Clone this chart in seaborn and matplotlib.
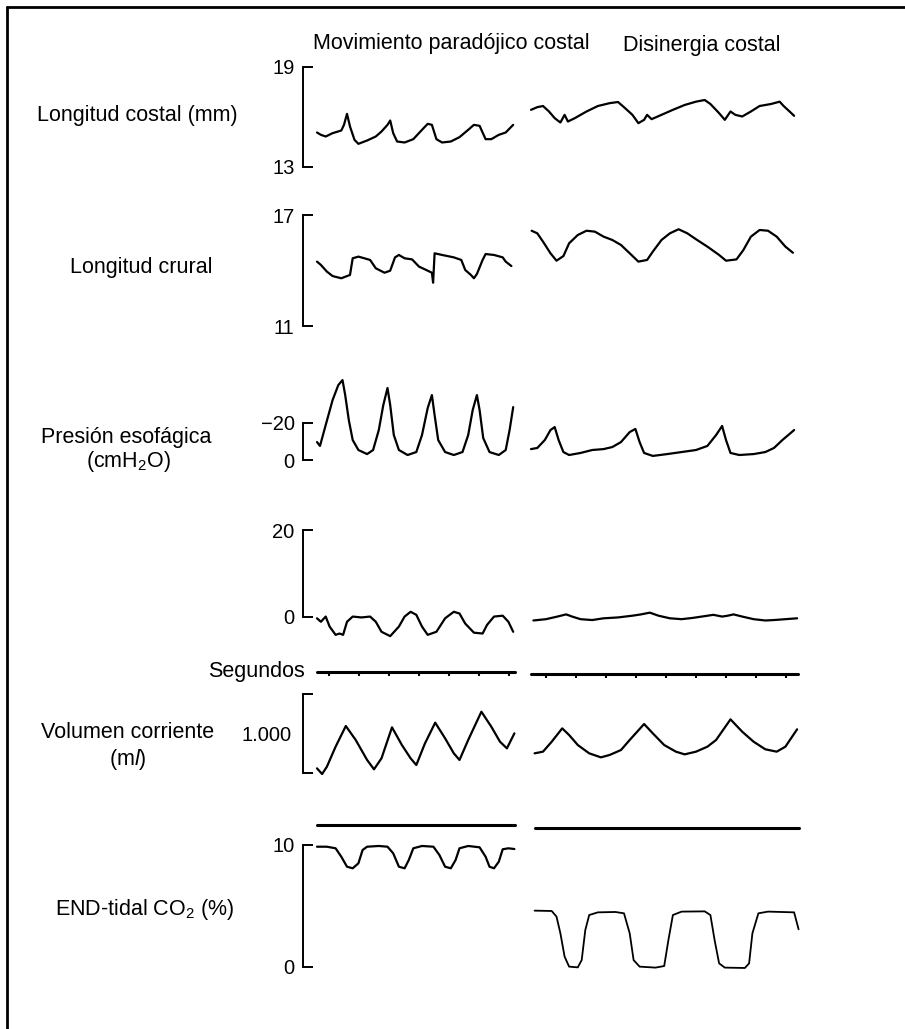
import numpy as np
import pandas as pd
import seaborn as sns
import matplotlib.pyplot as plt
from matplotlib.lines import Line2D

# --- data (time in s, values in channel units) ---
# Longitud costal (mm)
t_costal_izq = [0, 0.13, 0.29, 0.52, 0.81, 0.90, 1.00, 1.10, 1.25, 1.38, 1.67, 1.96, 2.15, 2.35, 2.44, 2.54, 2.67,
                2.92, 3.21, 3.50, 3.69, 3.83, 3.98, 4.17, 4.46, 4.75, 5.04, 5.23, 5.42, 5.62, 5.81, 6.06, 6.29, 6.54]
costal_izq = [15.07, 14.93, 14.83, 15.03, 15.19, 15.53, 16.19, 15.43, 14.63, 14.39, 14.59, 14.83, 15.13, 15.53, 15.79,
              15.03, 14.53, 14.47, 14.67, 15.23, 15.59, 15.53, 14.67, 14.47, 14.53, 14.79, 15.23, 15.53, 15.47, 14.67,
              14.67, 14.93, 15.07, 15.53]
t_costal_der = [0, 0.21, 0.40, 0.60, 0.79, 0.98, 1.12, 1.23, 1.46, 1.85, 2.23, 2.62, 2.90, 3.10, 3.38, 3.58, 3.77,
                3.87, 4.02, 4.35, 4.73, 5.12, 5.50, 5.79, 5.98, 6.27, 6.46, 6.65, 6.81, 7.04, 7.33, 7.62, 8.00, 8.29,
                8.42, 8.62, 8.77]
costal_der = [16.43, 16.59, 16.66, 16.33, 15.93, 15.67, 16.13, 15.73, 15.93, 16.33, 16.66, 16.83, 16.90, 16.59, 16.13,
              15.63, 15.83, 16.13, 15.87, 16.13, 16.43, 16.72, 16.92, 17.02, 16.78, 16.23, 15.83, 16.33, 16.13, 16.03,
              16.33, 16.66, 16.78, 16.92, 16.66, 16.33, 16.07]

# Longitud crural
t_crural_izq = [0, 0.13, 0.33, 0.52, 0.81, 1.10, 1.19, 1.38, 1.58, 1.77, 1.96, 2.25, 2.44, 2.60, 2.73, 2.92, 3.17,
                3.40, 3.69, 3.83, 3.87, 3.92, 4.17, 4.56, 4.81, 4.94, 5.13, 5.23, 5.33, 5.52, 5.62, 5.90, 6.19, 6.29,
                6.48]
crural_izq = [14.48, 14.30, 13.94, 13.70, 13.58, 13.76, 14.66, 14.75, 14.66, 14.57, 14.12, 13.88, 13.99, 14.71, 14.84,
              14.66, 14.60, 14.21, 13.99, 13.88, 13.34, 14.93, 14.84, 14.71, 14.57, 14.03, 13.76, 13.58, 13.81, 14.57,
              14.89, 14.84, 14.71, 14.48, 14.24]
t_crural_der = [0.02, 0.21, 0.40, 0.65, 0.85, 1.08, 1.27, 1.56, 1.85, 2.13, 2.42, 2.71, 3.00, 3.29, 3.58, 3.87, 4.06,
                4.35, 4.63, 4.92, 5.21, 5.50, 5.88, 6.27, 6.50, 6.85, 7.08, 7.33, 7.62, 7.90, 8.19, 8.48, 8.73]
crural_der = [16.15, 16.01, 15.56, 14.93, 14.53, 14.78, 15.47, 15.92, 16.15, 16.10, 15.83, 15.65, 15.38, 14.93, 14.48,
              14.57, 15.02, 15.65, 16.01, 16.23, 16.01, 15.69, 15.29, 14.84, 14.53, 14.60, 15.11, 15.83, 16.19, 16.15,
              15.83, 15.29, 14.96]

# Presión esofágica (cmH2O)
t_pes_izq = [0, 0.10, 0.29, 0.52, 0.71, 0.85, 0.94, 1.06, 1.19, 1.38, 1.67, 1.87, 2.06, 2.21, 2.35, 2.44, 2.56, 2.73,
             3.02, 3.31, 3.50, 3.69, 3.83, 3.92, 4.04, 4.27, 4.56, 4.85, 5.04, 5.19, 5.33, 5.42, 5.54, 5.75, 6.06,
             6.29, 6.42, 6.54]
pes_izq = [-9.7, -7.6, -18.9, -32.4, -40.5, -43.2, -35.1, -21.6, -10.8, -5.4, -3.2, -5.4, -16.2, -29.7, -38.9, -29.7,
           -13.5, -5.4, -2.7, -4.3, -13.5, -28.1, -35.1, -24.3, -10.8, -4.3, -2.7, -4.3, -13.5, -27.0, -35.1, -27.0,
           -11.9, -4.3, -2.7, -5.4, -16.2, -28.6]
t_pes_der = [0, 0.21, 0.46, 0.65, 0.79, 0.92, 1.08, 1.27, 1.65, 2.04, 2.42, 2.71, 3.00, 3.29, 3.48, 3.62, 3.77, 4.06,
             4.54, 5.02, 5.50, 5.88, 6.17, 6.37, 6.50, 6.65, 6.94, 7.42, 7.81, 8.10, 8.38, 8.62, 8.77]
pes_der = [-5.9, -6.5, -10.8, -16.2, -17.8, -10.8, -4.3, -2.7, -3.8, -5.4, -5.9, -7.0, -9.7, -15.1, -16.8, -9.7, -3.8,
           -2.2, -3.2, -4.3, -5.4, -7.6, -13.5, -18.4, -10.8, -3.8, -2.7, -3.2, -4.3, -6.5, -10.8, -14.1, -16.2]

# segunda presión (sin rótulo)
t_p2_izq = [0, 0.13, 0.29, 0.42, 0.62, 0.75, 0.87, 1.00, 1.19, 1.48, 1.77, 1.96, 2.15, 2.44, 2.73, 2.92, 3.12, 3.31,
            3.50, 3.69, 3.98, 4.27, 4.56, 4.75, 4.94, 5.23, 5.52, 5.67, 5.90, 6.19, 6.38, 6.54]
p2_izq = [-0.3, -1.1, 0.1, -2.2, -4.1, -3.8, -4.1, -1.1, 0.1, -0.1, 0.1, -1.1, -3.4, -4.4, -2.2, 0.1, 1.2, 0.5, -2.2,
          -4.1, -3.4, -0.3, 1.2, 0.8, -1.5, -3.6, -3.8, -1.8, 0.1, 0.3, -1.1, -3.4]
t_p2_der = [0.08, 0.50, 0.88, 1.17, 1.37, 1.65, 2.04, 2.42, 2.90, 3.38, 3.67, 3.96, 4.25, 4.63, 5.02, 5.40, 5.79, 6.08,
            6.37, 6.56, 6.75, 7.04, 7.42, 7.81, 8.10, 8.48, 8.87]
p2_der = [-0.8, -0.5, 0.1, 0.6, 0.1, -0.5, -0.7, -0.3, -0.1, 0.3, 0.6, 1.0, 0.3, -0.3, -0.5, -0.2, 0.2, 0.5, 0.1, 0.3,
          0.6, 0.1, -0.5, -0.8, -0.7, -0.5, -0.3]

# Segundos (marcas de tiempo)
seg_izq_t = [0.0, 6.6]
seg_der_t = [0.0, 8.9]
seg_izq_marcas = [0.4, 1.4, 2.4, 3.4, 4.4, 5.4, 6.4]
seg_der_marcas = [0.5, 1.5, 2.5, 3.5, 4.5, 5.5, 6.5, 7.5, 8.5]

# Volumen corriente (ml)
t_vol_izq = [0, 0.17, 0.33, 0.62, 0.96, 1.29, 1.67, 1.90, 2.15, 2.50, 2.83, 3.12, 3.31, 3.60, 3.94, 4.27, 4.56, 4.75,
             5.04, 5.48, 5.81, 6.10, 6.33, 6.58]
vol_izq = [59, -13, 80, 333, 595, 418, 165, 47, 186, 578, 354, 186, 101, 376, 637, 439, 249, 165, 418, 776, 586, 396,
           312, 502]
t_vol_der = [0.12, 0.40, 0.69, 1.04, 1.27, 1.56, 1.94, 2.33, 2.62, 3.00, 3.29, 3.77, 4.06, 4.44, 4.83, 5.12, 5.50,
             5.88, 6.17, 6.65, 7.04, 7.42, 7.81, 8.19, 8.48, 8.87]
vol_der = [249, 270, 396, 565, 481, 354, 249, 198, 228, 291, 418, 620, 502, 354, 270, 236, 270, 333, 418, 679, 523,
           396, 300, 270, 333, 553]

# END-tidal CO2 (%) y línea de referencia superior
ref_izq_t = [0.0, 6.6]
ref_izq = [11.6, 11.6]
ref_der_t = [0.12, 8.93]
ref_der = [11.4, 11.4]
t_co2_izq = [0, 0.33, 0.62, 0.81, 1.00, 1.19, 1.38, 1.52, 1.67, 2.06, 2.35, 2.54, 2.73, 2.92, 3.06, 3.21, 3.50, 3.88,
             4.08, 4.27, 4.46, 4.62, 4.75, 5.04, 5.42, 5.62, 5.75, 5.90, 6.06, 6.19, 6.38, 6.58]
co2_izq = [9.86, 9.86, 9.73, 9.04, 8.22, 8.09, 8.50, 9.59, 9.86, 9.92, 9.86, 9.32, 8.22, 8.09, 8.77, 9.73, 9.92, 9.86,
           9.18, 8.22, 8.09, 8.77, 9.73, 9.92, 9.81, 9.04, 8.22, 8.09, 8.63, 9.65, 9.73, 9.67]
t_co2_der = [0.12, 0.69, 0.85, 0.98, 1.12, 1.27, 1.56, 1.69, 1.81, 1.94, 2.23, 2.81, 3.10, 3.29, 3.42, 3.62, 4.15,
             4.44, 4.58, 4.73, 5.02, 5.79, 5.98, 6.12, 6.27, 6.46, 7.13, 7.27, 7.38, 7.58, 7.90, 8.77, 8.92]
co2_der = [4.62, 4.59, 4.13, 2.76, 0.85, 0.03, -0.03, 0.57, 3.03, 4.26, 4.48, 4.51, 4.40, 2.76, 0.57, 0.03, -0.05,
           0.08, 2.21, 4.26, 4.54, 4.56, 4.26, 2.21, 0.30, -0.05, -0.08, 0.30, 2.76, 4.40, 4.54, 4.48, 3.09]

titulos = ["Movimiento paradójico costal", "Disinergia costal"]

# --- layout (pixels of the 905x1029 page) ---
W, H = 905, 1029
PX_S = 30.0
COLS = {"izq": (-0.47, 6.75, 317), "der": (-0.15, 9.0, 531)}
FONT = 15.5
TICK_FONT = 14.5

sns.set_theme(style="white")
plt.rcParams["font.family"] = ["Liberation Sans", "DejaVu Sans"]
plt.rcParams["mathtext.fontset"] = "custom"
plt.rcParams["mathtext.rm"] = "Liberation Sans"
plt.rcParams["mathtext.it"] = "Liberation Sans:italic"

fig = plt.figure(figsize=(W / 100, H / 100), dpi=100)
fig.patch.set_facecolor("white")


def panel(col, top, bot, va, ya, vb, yb):
    t_lo, t_hi, x0 = COLS[col]
    left = x0 + t_lo * PX_S
    w = (t_hi - t_lo) * PX_S
    ax = fig.add_axes([left / W, 1 - bot / H, w / W, (bot - top) / H])
    ax.set_xlim(t_lo, t_hi)
    k = (va - vb) / (yb - ya)
    ax.set_ylim(vb - (bot - yb) * k, va + (ya - top) * k)
    ax.patch.set_alpha(0)
    for s in ax.spines.values():
        s.set_visible(False)
    ax.set_xticks([])
    ax.set_yticks([])
    return ax


def bracket(ax, lo, hi, labels):
    sp = ax.spines["left"]
    sp.set_visible(True)
    sp.set_bounds(min(lo, hi), max(lo, hi))
    sp.set_linewidth(1.4)
    sp.set_color("black")
    ax.set_yticks([lo, hi])
    ax.set_yticklabels(labels)
    ax.tick_params(axis="y", left=True, direction="in", length=7, width=1.4,
                   pad=6, labelsize=TICK_FONT, colors="black")


def trace(ax, t, v, lw=1.6):
    sns.lineplot(x=t, y=v, ax=ax, color="black", linewidth=lw, estimator=None, sort=False)
    ax.set_xlabel("")
    ax.set_ylabel("")


def label(x, y, s, ha="center"):
    fig.text(x / W, 1 - y / H, s, ha=ha, va="center", fontsize=FONT, color="black")


# page frame
fig.add_artist(Line2D([7 / W, 1], [1 - 7 / H, 1 - 7 / H], color="black", lw=2))
fig.add_artist(Line2D([7 / W, 7 / W], [1 - 7 / H, 0], color="black", lw=2))

# column titles
label(451, 44, titulos[0])
label(702, 46, titulos[1])

# Longitud costal
ax = panel("izq", 60, 175, 19, 67, 13, 167)
trace(ax, t_costal_izq, costal_izq)
bracket(ax, 13, 19, ["13", "19"])
ax = panel("der", 60, 175, 19, 67, 13, 167)
trace(ax, t_costal_der, costal_der)
label(137, 115, "Longitud costal (mm)")

# Longitud crural
ax = panel("izq", 205, 335, 17, 215, 11, 326)
trace(ax, t_crural_izq, crural_izq)
bracket(ax, 11, 17, ["11", "17"])
ax = panel("der", 205, 335, 17, 215, 11, 326)
trace(ax, t_crural_der, crural_der)
label(141, 268, "Longitud crural")

# Presión esofágica
ax = panel("izq", 370, 470, -20, 423, 0, 460)
trace(ax, t_pes_izq, pes_izq)
bracket(ax, 0, -20, ["0", "\u221220"])
ax = panel("der", 370, 470, -20, 423, 0, 460)
trace(ax, t_pes_der, pes_der)
label(126, 438, "Presión esofágica")
label(128, 462, "(cmH$_2$O)")

# segunda presión
ax = panel("izq", 520, 645, 20, 530, 0, 617)
trace(ax, t_p2_izq, p2_izq)
bracket(ax, 0, 20, ["0", "20"])
ax = panel("der", 520, 645, 20, 530, 0, 617)
trace(ax, t_p2_der, p2_der)

# Segundos
for col, tt, y0, marks in [("izq", seg_izq_t, 0.0, seg_izq_marcas), ("der", seg_der_t, -0.2, seg_der_marcas)]:
    ax = panel(col, 655, 690, 1, 662, -1, 682)
    trace(ax, tt, [y0, y0], lw=2.2)
    ax.vlines(marks, y0 - 0.35, y0, color="black", lw=1.5)
label(305, 672, "Segundos", ha="right")

# Volumen corriente
ax = panel("izq", 690, 790, 1000, 694, 0, 773)
trace(ax, t_vol_izq, vol_izq)
bracket(ax, 0, 1000, ["", ""])
ax.set_yticks([500], minor=True)
ax.set_yticklabels(["1.000"], minor=True)
ax.tick_params(axis="y", which="minor", left=True, length=0, pad=8,
               labelsize=TICK_FONT, colors="black")
ax = panel("der", 690, 790, 1000, 694, 0, 773)
trace(ax, t_vol_der, vol_der)
label(128, 732, "Volumen corriente")
label(128, 760, "(m$\\mathit{l}$)")

# END-tidal CO2
ax = panel("izq", 815, 985, 10, 845, 0, 967)
trace(ax, ref_izq_t, ref_izq, lw=2.2)
trace(ax, t_co2_izq, co2_izq)
bracket(ax, 0, 10, ["0", "10"])
ax = panel("der", 815, 985, 10, 845, 0, 967)
trace(ax, ref_der_t, ref_der, lw=2.2)
trace(ax, t_co2_der, co2_der, lw=1.3)
label(145, 910, "END-tidal CO$_2$ (%)")

fig.savefig("out.png", dpi=100)
